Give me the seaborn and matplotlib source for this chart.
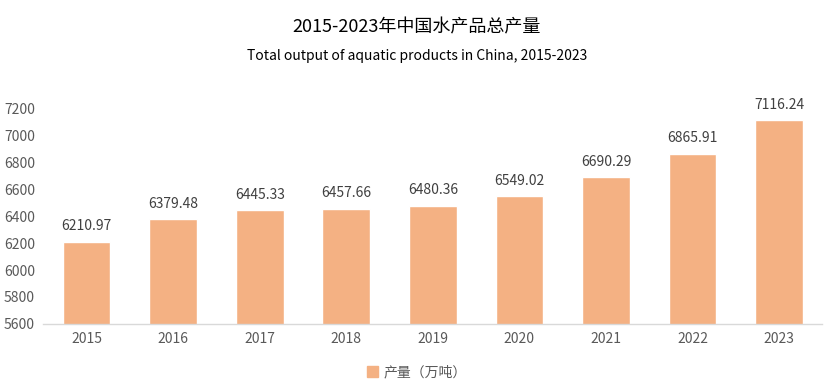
import matplotlib.pyplot as plt
import matplotlib.patches as mpatches
import seaborn as sns
import pandas as pd

years = ["2015", "2016", "2017", "2018", "2019", "2020", "2021", "2022", "2023"]
output = [6210.97, 6379.48, 6445.33, 6457.66, 6480.36, 6549.02, 6690.29, 6865.91, 7116.24]
series_name = "产量（万吨）"

df = pd.DataFrame({"year": years, "output": output})

sns.set_theme(style="white")
plt.rcParams['font.family'] = ['Noto Sans CJK SC', 'DejaVu Sans']

bar_color = "#F4B183"
text_color = "#595959"

fig = plt.figure(figsize=(8.34, 3.86), dpi=100)
ax = fig.add_axes([0.052, 0.161, 0.934, 0.557])

sns.barplot(data=df, x="year", y="output", color=bar_color, width=0.55, ax=ax, saturation=1)

ax.set_ylim(5600, 7200)
ax.set_yticks(range(5600, 7201, 200))
ax.set_xlim(-0.5, len(years) - 0.5)
ax.set_xlabel("")
ax.set_ylabel("")

for s in ["top", "right", "left"]:
    ax.spines[s].set_visible(False)
ax.spines["bottom"].set_color("#D9D9D9")
ax.spines["bottom"].set_linewidth(1)
ax.tick_params(axis="both", colors=text_color, labelsize=10, length=0)
ax.tick_params(axis="x", pad=6)
ax.tick_params(axis="y", pad=6)

ax.bar_label(ax.containers[0], fmt="%.2f", padding=6, fontsize=10, color="#404040", clip_on=False)

fig.text(0.5, 0.93, "2015-2023年中国水产品总产量", ha="center", va="center", fontsize=13, color="#000000")
fig.text(0.5, 0.855, "Total output of aquatic products in China, 2015-2023", ha="center", va="center",
         fontsize=10, color="#000000")

handle = mpatches.Patch(color=bar_color, label=series_name)
fig.legend(handles=[handle], loc="center", bbox_to_anchor=(0.5, 0.035), frameon=False,
           fontsize=10, labelcolor=text_color, handlelength=0.8, handleheight=0.8, handletextpad=0.4)

fig.savefig("out.png", dpi=100)
